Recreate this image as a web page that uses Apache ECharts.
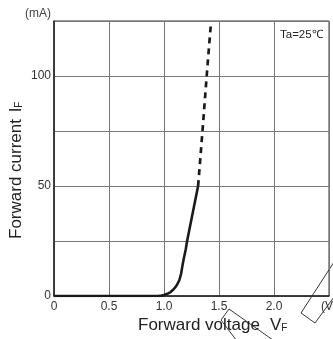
<!DOCTYPE html>
<html>
<head>
<meta charset="utf-8">
<script src="https://cdn.jsdelivr.net/npm/echarts@6/dist/echarts.min.js"></script>
<style>
	html, body { margin: 0; padding: 0; background: #fff; }
	#draw { width: 333px; height: 339px; }
</style>
</head>
<body>
<div id="draw"></div>
<script>
// forward voltage (V) / forward current (mA)
var vSolid = [0, 0.5, 0.9, 0.95, 0.98, 1.0, 1.03, 1.06, 1.08, 1.1, 1.12, 1.14, 1.155, 1.165, 1.18, 1.197, 1.21, 1.31];
var iSolid = [0, 0, 0, 0, 0.2, 0.5, 1.0, 1.8, 2.7, 3.8, 5.2, 7.3, 10, 13, 17, 21, 25, 50];
var vDash = [1.31, 1.35, 1.388, 1.425];
var iDash = [50, 75, 100, 123];
var xTicks = ['0', '0.5', '1.0', '1.5', '2.0', '(V)'];
var yTicks = { 0: '0', 50: '50', 100: '100' };

var myChart = echarts.init(document.getElementById('draw'));
var font = 'Liberation Sans, Arial, sans-serif';

var pair = function(xs, ys) {
	return xs.map(function(x, i) {
		return [x, ys[i]];
	});
};

option = {
	animation : false,
	textStyle : { fontFamily : font },
	grid : {
		left : 54,
		top : 21,
		width : 275,
		height : 275,
		outerBoundsMode : 'none',
		containLabel : false,
		show : true,
		borderColor : '#333',
		borderWidth : 1
	},
	xAxis : {
		type : 'value',
		min : 0,
		max : 2.5,
		interval : 0.5,
		axisLine : { show : true, lineStyle : { color : '#222', width : 1.5 } },
		axisTick : { show : false },
		splitLine : { show : true, lineStyle : { color : '#777', width : 1 } },
		axisLabel : {
			margin : 5,
			fontSize : 12,
			color : '#333',
			fontFamily : font,
			showMaxLabel : true,
			formatter : function(val) {
				return xTicks[Math.round(val / 0.5)];
			}
		}
	},
	yAxis : {
		type : 'value',
		min : 0,
		max : 125,
		interval : 25,
		axisLine : { show : true, lineStyle : { color : '#222', width : 1.5 } },
		axisTick : { show : false },
		splitLine : { show : true, lineStyle : { color : '#777', width : 1 } },
		axisLabel : {
			margin : 3,
			fontSize : 12,
			color : '#333',
			fontFamily : font,
			formatter : function(val) {
				return yTicks[val] || '';
			}
		}
	},
	series : [ {
		type : 'line',
		data : pair(vSolid, iSolid),
		showSymbol : false,
		lineStyle : { color : '#1a1a1a', width : 2.6, join : 'round' }
	}, {
		type : 'line',
		data : pair(vDash, iDash),
		showSymbol : false,
		lineStyle : { color : '#1a1a1a', width : 2.7, type : [6, 5] }
	} ],
	graphic : [ {
		type : 'text',
		left : 25,
		top : 8,
		style : { text : '(mA)', fill : '#444', font : '12px ' + font }
	}, {
		type : 'text',
		left : 280,
		top : 29,
		style : { text : 'Ta=25\u2103', fill : '#222', font : '11.5px ' + font }
	}, {
		type : 'text',
		left : 138,
		top : 317,
		style : {
			text : '{a|Forward voltage}   {a|V}{b|F}',
			rich : {
				a : { fontSize : 17, fontFamily : font, fill : '#222' },
				b : { fontSize : 10, fontFamily : font, fill : '#222', padding : [6, 0, 0, 0] }
			}
		}
	}, {
		type : 'text',
		x : 8,
		y : 239,
		rotation : Math.PI / 2,
		style : {
			text : '{a|Forward current}  {a|I}{b|F}',
			rich : {
				a : { fontSize : 17, fontFamily : font, fill : '#222' },
				b : { fontSize : 10, fontFamily : font, fill : '#222', padding : [6, 0, 0, 0] }
			}
		}
	}, {
		// scan marks over the bottom edge
		type : 'polyline',
		shape : { points : [[280, 345], [229, 309], [221, 320], [240, 345]] },
		style : { stroke : '#222', fill : null, lineWidth : 0.9 }
	}, {
		type : 'polyline',
		shape : { points : [[334, 262], [301, 313], [315, 323], [334, 297]] },
		style : { stroke : '#222', fill : null, lineWidth : 0.9 }
	} ]
};
myChart.setOption(option);
</script>
</body>
</html>
